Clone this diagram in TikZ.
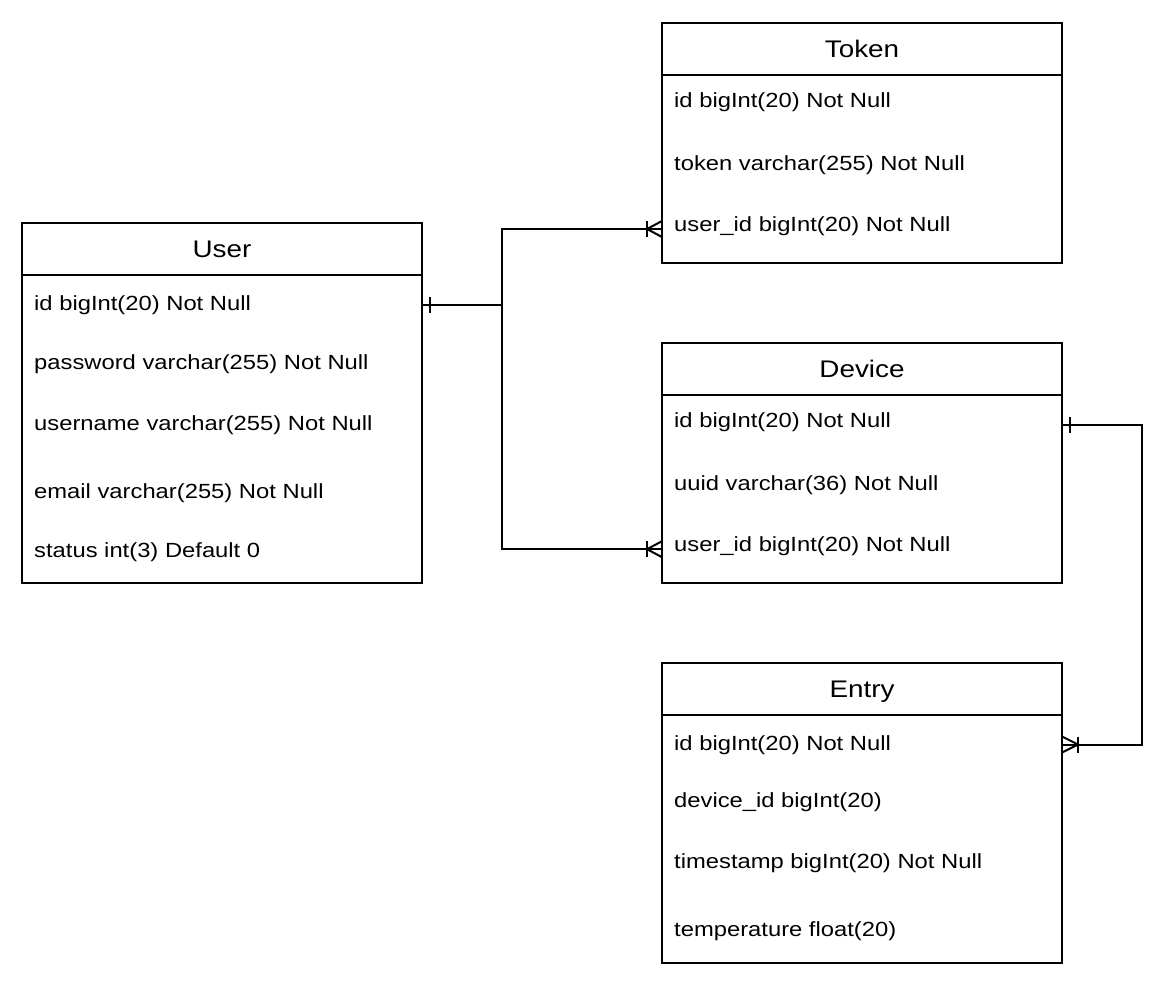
\documentclass[tikz,border=0pt]{standalone}
\usepackage{fontspec}
\setmainfont{Liberation Sans}[FakeStretch=1.16]
\begin{document}
\begin{tikzpicture}[x=1pt,y=-1pt,
  ent/.style={draw, line width=2pt, minimum width=400pt, anchor=north west, inner sep=0pt, outer sep=0pt},
  ttl/.style={draw, line width=2pt, minimum width=400pt, minimum height=52pt, anchor=north west, inner sep=0pt, outer sep=0pt,
    font=\fontsize{24}{28}\selectfont, text height=17pt, text depth=0pt},
  attr/.style={anchor=base west, inner sep=0pt, font=\fontsize{20.5}{24}\selectfont, text height=15pt, text depth=4pt},
  rel/.style={line width=2pt},
]
\useasboundingbox (0,0) rectangle (1164,982);

% User
\node[ent, minimum height=360pt] (user) at (22,223) {};
\node[ttl] (usert) at (22,223) {User};
\node[attr] (u1) at (34,310.7) {id bigInt(20) Not Null};
\node[attr] (u2) at (34,369.3) {password varchar(255) Not Null};
\node[attr] (u3) at (34,430) {username varchar(255) Not Null};
\node[attr] (u4) at (34,498.3) {email varchar(255) Not Null};
\node[attr] (u5) at (34,557.3) {status int(3) Default 0};

% Token
\node[ent, minimum height=240pt] (token) at (662,23) {};
\node[ttl] (tokent) at (662,23) {Token};
\node[attr] (t1) at (674,107.5) {id bigInt(20) Not Null};
\node[attr] (t2) at (674,170) {token varchar(255) Not Null};
\node[attr] (t3) at (674,231.5) {user\_id bigInt(20) Not Null};

% Device
\node[ent, minimum height=240pt] (device) at (662,343) {};
\node[ttl] (devicet) at (662,343) {Device};
\node[attr] (d1) at (674,427.3) {id bigInt(20) Not Null};
\node[attr] (d2) at (674,490.5) {uuid varchar(36) Not Null};
\node[attr] (d3) at (674,551.7) {user\_id bigInt(20) Not Null};

% Entry
\node[ent, minimum height=300pt] (entry) at (662,663) {};
\node[ttl] (entryt) at (662,663) {Entry};
\node[attr] (e1) at (674,750) {id bigInt(20) Not Null};
\node[attr] (e2) at (674,807.3) {device\_id bigInt(20)};
\node[attr] (e3) at (674,868.3) {timestamp bigInt(20) Not Null};
\node[attr] (e4) at (674,936.7) {temperature float(20)};

% connector end points
\coordinate (pU) at (user.east |- u1);
\coordinate (pT) at ([yshift=-3pt]token.west |- t3);
\coordinate (pD3) at ([yshift=-3pt]device.west |- d3);
\coordinate (pD1) at ([yshift=-3pt]device.east |- d1);
\coordinate (pE) at (entry.east |- e1);

% connectors
\draw[rel] (pU) -- ++(80,0) coordinate (uj) |- (pT);
\draw[rel] (uj) |- (pD3);
\draw[rel] (pD1) -- ++(80,0) |- (pE);

% one-side ticks
\draw[rel] ([xshift=8pt,yshift=8pt]pU) -- ([xshift=8pt,yshift=-8pt]pU);
\draw[rel] ([xshift=8pt,yshift=8pt]pD1) -- ([xshift=8pt,yshift=-8pt]pD1);

% many-side crow's feet
\draw[rel] ([yshift=8pt]pT) -- ([xshift=-15pt]pT) -- ([yshift=-8pt]pT);
\draw[rel] ([xshift=-15pt,yshift=8pt]pT) -- ([xshift=-15pt,yshift=-8pt]pT);
\draw[rel] ([yshift=8pt]pD3) -- ([xshift=-15pt]pD3) -- ([yshift=-8pt]pD3);
\draw[rel] ([xshift=-15pt,yshift=8pt]pD3) -- ([xshift=-15pt,yshift=-8pt]pD3);
\draw[rel] ([yshift=8pt]pE) -- ([xshift=16pt]pE) -- ([yshift=-8pt]pE);
\draw[rel] ([xshift=16pt,yshift=8pt]pE) -- ([xshift=16pt,yshift=-8pt]pE);
\end{tikzpicture}
\end{document}
